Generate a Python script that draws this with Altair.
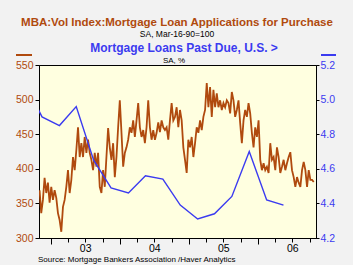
import altair as alt
import pandas as pd

# ---- data ----
purchase_index = [
    369, 336, 355, 387, 365, 380, 351, 374, 355, 369, 358, 336, 326, 309, 345, 355, 374, 398, 365, 384,
    417, 398, 427, 460, 417, 437, 417, 446, 423, 442, 423, 413, 398, 423, 403, 423, 374, 365,
    398, 374, 417, 459, 431, 413, 437, 388, 417, 460, 499, 452, 403, 423, 431, 442, 460, 452, 470, 446,
    470, 495, 460, 446, 456, 437, 460, 499, 460, 442, 456, 442, 452, 467, 453, 470, 460,
    456, 460, 442, 470, 495, 470, 475, 489, 460, 485, 470, 431, 413, 394, 442, 431, 446, 417, 437, 460,
    452, 470, 456, 475, 485, 524, 489, 518, 475, 514, 489, 509, 489, 499, 485, 495, 489, 499,
    495, 480, 511, 499, 475, 485, 499, 466, 437, 470, 485, 475, 495, 480, 452, 431, 460, 446, 470, 413,
    398, 408, 398, 403, 394, 437, 413, 417, 398, 431, 417, 394, 403, 413, 398, 408,
    417, 424, 398, 388, 374, 388, 380, 374, 398, 410, 398, 374, 398, 384, 384, 381,
]
purchase_start = "2002-11-02"
purchase_end = "2006-10-22"

past_due_dates = [
    "2002-08-15", "2002-11-15", "2003-02-15", "2003-05-15", "2003-08-15", "2003-11-15",
    "2004-02-15", "2004-05-15", "2004-08-15", "2004-11-15", "2005-02-15", "2005-05-15",
    "2005-08-15", "2005-11-15", "2006-02-15", "2006-05-15",
]
past_due = [5.10, 4.90, 4.85, 4.96, 4.65, 4.49, 4.46, 4.56, 4.54, 4.39, 4.31, 4.34, 4.44, 4.70, 4.42, 4.39]

left_ticks = [300, 350, 400, 450, 500, 550]
right_ticks = [4.2, 4.4, 4.6, 4.8, 5.0, 5.2]

title1 = "MBA:Vol Index:Mortgage Loan Applications for Purchase"
title2 = "SA, Mar-16-90=100"
title3 = "Mortgage Loans Past Due, U.S.   >"
title4 = "SA, %"
source = "Source:  Mortgage Bankers Association /Haver Analytics"

ORANGE = "#b04a0e"
BLUE = "#3b3bf0"
FONT = "Liberation Sans"

df_o = pd.DataFrame({
    "date": pd.date_range(purchase_start, purchase_end, periods=len(purchase_index)),
    "v": purchase_index,
})
df_o["date"] = df_o["date"].dt.strftime("%Y-%m-%dT%H:%M:%S")
df_b = pd.DataFrame({"date": [d + "T00:00:00" for d in past_due_dates], "v": past_due})

quarters = [alt.DateTime(year=y, month=m, date=1) for y in range(2003, 2007) for m in (1, 4, 7, 10)]

xscale = alt.Scale(domain=[alt.DateTime(year=2002, month=10, date=30),
                           alt.DateTime(year=2006, month=11, date=3)])

xaxis = alt.Axis(
    values=quarters,
    labelExpr="month(datum.value) == 6 ? timeFormat(datum.value, '%y') : ''",
    tickSize={"condition": {"test": "month(datum.value) == 0", "value": 6}, "value": 4},
    labelFontSize=10.5, labelColor="#000000", labelFont=FONT, labelPadding=1,
    domainColor="#000000", tickColor="#000000", grid=False, title=None, labelFlush=False,
    labelOverlap=False,
)

orange = alt.Chart(df_o).mark_line(color=ORANGE, strokeWidth=1.8, clip=True).encode(
    x=alt.X("date:T", scale=xscale, axis=xaxis),
    y=alt.Y("v:Q", scale=alt.Scale(domain=[300, 550], nice=False, zero=False),
            axis=alt.Axis(orient="left", values=left_ticks, labelColor=ORANGE, labelFontSize=10.5,
                          labelFont=FONT, tickSize=4, labelPadding=2, domainColor="#000000",
                          tickColor="#000000", grid=False, title=None)),
)

blue = alt.Chart(df_b).mark_line(color=BLUE, strokeWidth=1.4, clip=True).encode(
    x=alt.X("date:T", scale=xscale, axis=xaxis),
    y=alt.Y("v:Q", scale=alt.Scale(domain=[4.2, 5.2], nice=False, zero=False),
            axis=alt.Axis(orient="right", values=right_ticks, format=".1f", labelColor=BLUE,
                          labelFontSize=10.5, labelFont=FONT, tickSize=3, labelPadding=1,
                          domainColor="#000000", tickColor="#000000", grid=False, title=None)),
)

one = pd.DataFrame({"a": [0]})


def txt(t, x, y, size, color, align="center", weight="normal"):
    return alt.Chart(one).mark_text(text=t, fontSize=size, color=color, font=FONT, align=align,
                                    baseline="middle", fontWeight=weight).encode(
        x=alt.value(x), y=alt.value(y))


texts = [
    txt(title1, 138, -42.5, 11.5, ORANGE, weight="bold"),
    txt(title2, 138, -31, 8.5, "#000000"),
    txt(title3, 145, -17.5, 12, BLUE, weight="bold"),
    txt(title4, 135, -4, 8, "#000000"),
    txt(source, -1, 195, 8, "#000000", align="left"),
]

leg_o = alt.Chart(one).mark_rule(color=ORANGE, strokeWidth=2).encode(
    x=alt.value(-23), x2=alt.value(-7), y=alt.value(-10))
leg_b = alt.Chart(one).mark_rule(color=BLUE, strokeWidth=2).encode(
    x=alt.value(282), x2=alt.value(297), y=alt.value(-10))

chart = alt.layer(orange, blue, *texts, leg_o, leg_b).resolve_scale(y="independent").properties(
    width=277, height=173,
    autosize=alt.AutoSizeParams(type="none"),
    padding={"left": 39, "top": 65, "right": 37, "bottom": 27},
    background="#f2f2f2",
).configure_view(stroke="#000000", strokeWidth=1, fill="#ffffe0")

chart.save("out.html", embed_options={"renderer": "svg", "actions": False})
